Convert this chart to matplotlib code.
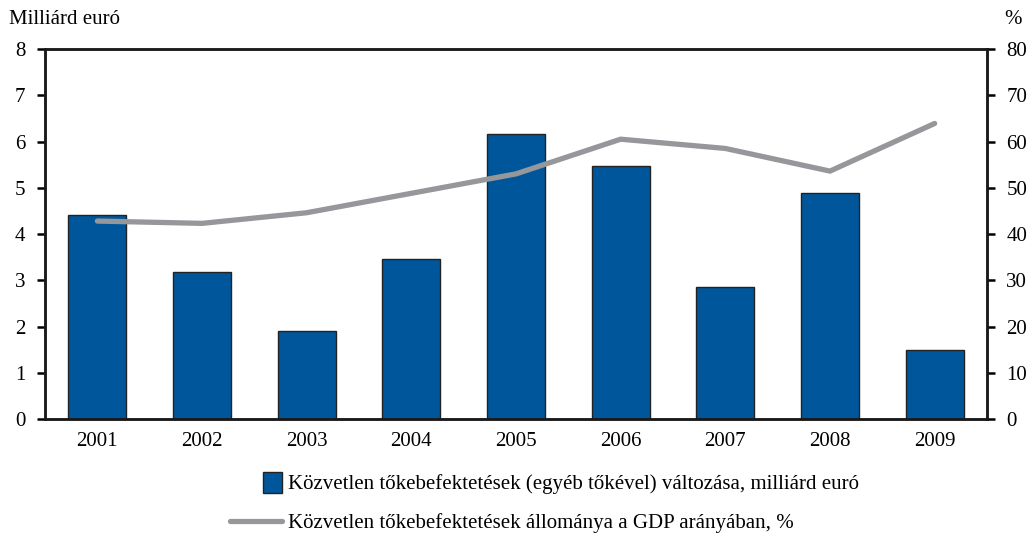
import matplotlib.pyplot as plt
from matplotlib.legend_handler import HandlerPatch
from matplotlib.patches import Rectangle
from matplotlib.lines import Line2D

plt.rcParams['font.family'] = ['Liberation Serif', 'DejaVu Serif']

evek = ['2001', '2002', '2003', '2004', '2005', '2006', '2007', '2008', '2009']
tokebef_valtozas = [4.41, 3.18, 1.91, 3.45, 6.16, 5.47, 2.86, 4.89, 1.49]   # milliárd euró
allomany_gdp = [42.8, 42.3, 44.6, 48.8, 53.0, 60.5, 58.5, 53.6, 63.9]       # %

kek = '#00569A'
szurke = '#96979B'
fs = 15


def negyzet(legend, orig_handle, xdescent, ydescent, width, height, fontsize):
    # kis negyzet a jelmagyarazat dobozanak jobb szelere igazitva
    h = height * 1.45
    w = h * 0.92
    return Rectangle((width - w - xdescent, -ydescent - (h - height) / 2), w, h)


fig = plt.figure(figsize=(10.28, 5.35), dpi=100)
ax = fig.add_axes([0.0438, 0.2168, 0.9163, 0.6916])
ax2 = ax.twinx()

x = range(len(evek))
ax.bar(x, tokebef_valtozas, width=0.555, color=kek, edgecolor='#222222', linewidth=1, zorder=2)
ax2.plot(x, allomany_gdp, color=szurke, linewidth=3.8, solid_capstyle='round', solid_joinstyle='miter')

ax.set_xlim(-0.5, len(evek) - 0.5)
ax.set_ylim(0, 8)
ax2.set_ylim(0, 80)
ax.set_yticks(range(0, 9))
ax2.set_yticks(range(0, 81, 10))
ax.set_xticks(list(x))
ax.set_xticklabels(evek)

for a in (ax, ax2):
    for s in a.spines.values():
        s.set_linewidth(1.8)
        s.set_color('#1a1a1a')
ax.tick_params(axis='y', direction='out', length=6, width=1.8, labelsize=fs, pad=8)
ax2.tick_params(axis='y', direction='out', length=6, width=1.8, labelsize=fs, pad=8)
ax.tick_params(axis='x', length=0, labelsize=fs, pad=9)

fig.text(0.009, 0.963, 'Milliárd euró', fontsize=fs, va='center', ha='left')
fig.text(0.985, 0.963, '%', fontsize=fs, va='center', ha='center')

h_bar = Rectangle((0, 0), 1, 1, facecolor=kek, edgecolor='#222222', linewidth=1)
h_line = Line2D([], [], color=szurke, linewidth=3.8, solid_capstyle='round')
fig.legend([h_bar, h_line],
           ['Közvetlen tőkebefektetések (egyéb tőkével) változása, milliárd euró',
            'Közvetlen tőkebefektetések állománya a GDP arányában, %'],
           loc='upper left', bbox_to_anchor=(0.2237, 0.113), bbox_transform=fig.transFigure,
           frameon=False, fontsize=fs, handlelength=2.5, handletextpad=0.3,
           labelspacing=0.9, borderpad=0, borderaxespad=0,
           handler_map={Rectangle: HandlerPatch(patch_func=negyzet)})

fig.savefig('out.png', dpi=100)
